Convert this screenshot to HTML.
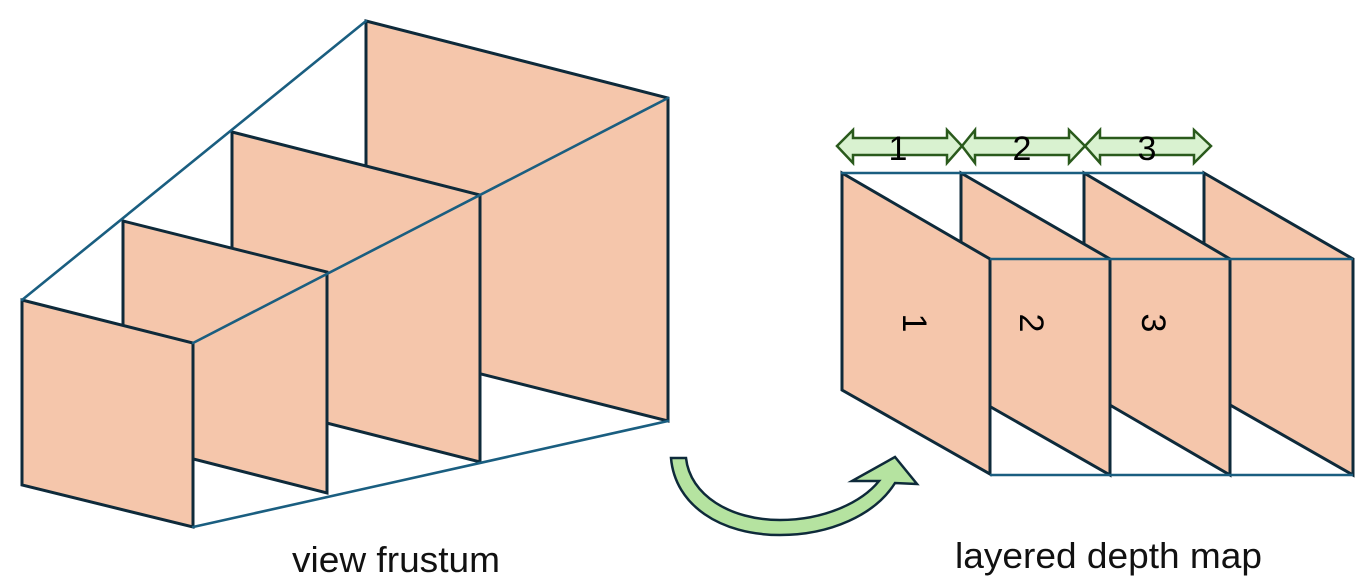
<!DOCTYPE html>
<html><head><meta charset="utf-8"><style>
html,body{margin:0;padding:0;background:#fff;}
svg{display:block;}
</style></head><body>
<svg width="1366" height="586" viewBox="0 0 1366 586" xmlns="http://www.w3.org/2000/svg">
<g fill="#f5c6ab" stroke="#0e2a3a" stroke-width="3" stroke-linejoin="miter">
<polygon points="366,21 668,98 668,421 366,345"/>
<polygon points="232,132 480,195 480,462 232,399"/>
<polygon points="123,221 327,272 327,493 123,441"/>
<polygon points="22,300 193,343 193,527 22,485"/>
</g>
<g stroke="#1a5e80" stroke-width="2.6" fill="none" stroke-linecap="round">
<line x1="22" y1="300" x2="366" y2="21"/>
<line x1="193" y1="343" x2="668" y2="98"/>
<line x1="193" y1="527" x2="668" y2="421"/>
</g>

<g fill="#f5c6ab" stroke="#0e2a3a" stroke-width="3">
<polygon points="1204,173 1353,259 1353,475 1204,390"/>
<polygon points="1084,173 1230,259 1230,475 1084,390"/>
<polygon points="961,173 1110,259 1110,475 961,390"/>
<polygon points="842,173 990,259 990,474 842,390"/>
</g>
<g stroke="#1a5e80" stroke-width="2.6" fill="none">
<line x1="841" y1="173" x2="1204" y2="173"/>
<line x1="990" y1="259" x2="1353" y2="259"/>
<line x1="990" y1="475" x2="1353" y2="475"/>
</g>

<g font-family="Liberation Sans, sans-serif" font-size="34" fill="#000">
<text x="914" y="323" text-anchor="middle" dominant-baseline="central" transform="rotate(90 914 323)">1</text>
<text x="1031" y="323" text-anchor="middle" dominant-baseline="central" transform="rotate(90 1031 323)">2</text>
<text x="1153" y="323" text-anchor="middle" dominant-baseline="central" transform="rotate(90 1153 323)">3</text>
</g>

<g fill="#d9f2d0" stroke="#2a5a1c" stroke-width="2.5" stroke-linejoin="miter">
<polygon points="837,146 853,130 853,138 947,138 947,130 962,146 947,163 947,155 853,155 853,163"/>
<polygon points="962,146 975,130 975,138 1069,138 1069,130 1085,146 1069,163 1069,155 975,155 975,163"/>
<polygon points="1085,146 1100,130 1100,138 1194,138 1194,130 1211,146 1194,163 1194,155 1100,155 1100,163"/>
</g>
<g font-family="Liberation Sans, sans-serif" font-size="34" fill="#000" text-anchor="middle">
<text x="898" y="160">1</text>
<text x="1022" y="160">2</text>
<text x="1147" y="160">3</text>
</g>

<path d="M671,458 L686,458 C690,495 730,520 780,520 C825,520 862,502 879,481 L852,481 L895,457 L917,484 L895,483 C875,515 830,535 780,535 C720,535 675,505 671,458 Z" fill="#b5e3a0" stroke="#0e2a3a" stroke-width="2.5" stroke-linejoin="miter"/>

<g font-family="Liberation Sans, sans-serif" font-size="36" fill="#111">
<text x="292" y="572" textLength="208" lengthAdjust="spacingAndGlyphs">view frustum</text>
<text x="955" y="568" textLength="307" lengthAdjust="spacingAndGlyphs">layered depth map</text>
</g>
</svg>
</body></html>
